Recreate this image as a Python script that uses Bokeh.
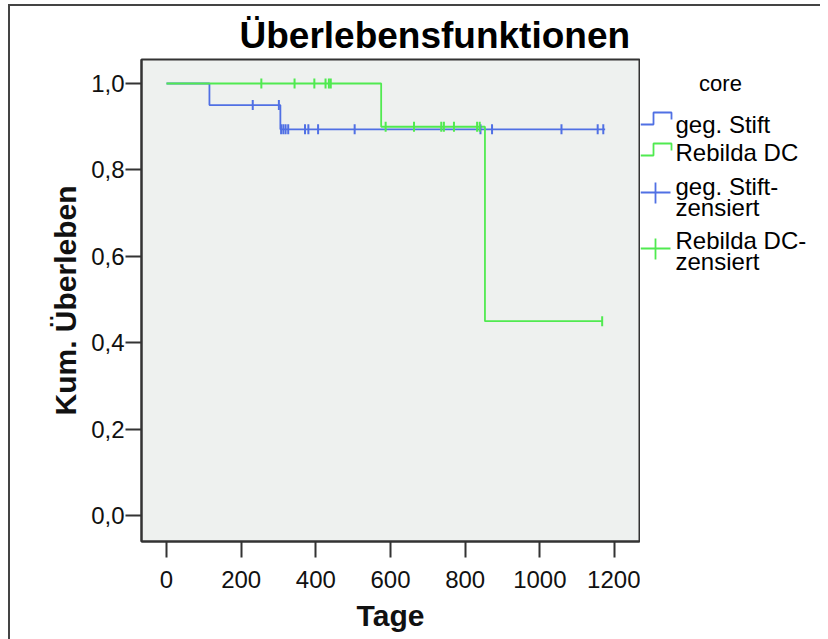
from bokeh.plotting import figure
from bokeh.layouts import row
from bokeh.models import Range1d, FixedTicker
from bokeh.core.properties import value
from bokeh.embed import file_html
from bokeh.resources import INLINE

# ---- data ----
blue_step_t = [0, 115, 305, 1175]
blue_step_s = [1.0, 0.95, 0.894, 0.894]
blue_cens_t = [231, 301, 307, 313, 319, 326, 371, 380, 406, 504, 841, 872, 1058, 1155, 1170]
blue_cens_s = [0.95, 0.95, 0.894, 0.894, 0.894, 0.894, 0.894, 0.894, 0.894, 0.894,
               0.894, 0.894, 0.894, 0.894, 0.894]

green_step_t = [0, 575, 853, 1167]
green_step_s = [1.0, 0.90, 0.45, 0.45]
green_cens_t = [254, 343, 396, 426, 435, 440, 587, 663, 736, 743, 770, 832, 839, 1167]
green_cens_s = [1.0, 1.0, 1.0, 1.0, 1.0, 1.0, 0.90, 0.90, 0.90, 0.90, 0.90, 0.90, 0.90, 0.45]

x_ticks = [0, 200, 400, 600, 800, 1000, 1200]
y_ticks = [0.0, 0.2, 0.4, 0.6, 0.8, 1.0]
y_tick_labels = ["0,0", "0,2", "0,4", "0,6", "0,8", "1,0"]

legend_title = "core"
legend_labels = ["geg. Stift", "Rebilda DC", "geg. Stift-", "zensiert", "Rebilda DC-", "zensiert"]

BLUE = "#5070e4"
GREEN = "#50ea50"
FONT = "Liberation Sans"
OX, OY = 10, 6          # page offset of the figures (margin + outer border)
H = 639 - OY
TOP = 59 - OY
BOTTOM = H - (541 - OY)

p = figure(width=640 - OX, height=H, output_backend="svg", toolbar_location=None,
           x_range=Range1d(-67, 1267), y_range=Range1d(-0.06, 1.0556),
           min_border_left=141 - OX, min_border_right=1, min_border_top=TOP, min_border_bottom=BOTTOM)
p.background_fill_color = "#eef1ef"
p.border_fill_color = "white"
p.outline_line_color = "#333333"
p.outline_line_width = 2
p.grid.visible = False

p.title.text = "Überlebensfunktionen"
p.title.text_font = FONT
p.title.text_font_size = "37px"
p.title.text_font_style = "bold"
p.title.text_color = "#000000"
p.title.align = "left"
p.title.offset = 98
p.title.standoff = 8

for ax in (p.xaxis[0], p.yaxis[0]):
    ax.axis_line_color = "#333333"
    ax.axis_line_width = 2
    ax.major_tick_line_color = "#333333"
    ax.major_tick_line_width = 2
    ax.major_tick_in = 0
    ax.major_tick_out = 16
    ax.minor_tick_line_color = None
    ax.major_label_text_font = FONT
    ax.major_label_text_font_size = "24px"
    ax.major_label_text_color = "#111111"
    ax.axis_label_text_font = FONT
    ax.axis_label_text_font_size = "30px"
    ax.axis_label_text_font_style = "bold"
    ax.axis_label_text_color = "#111111"

p.xaxis.ticker = FixedTicker(ticks=x_ticks)
p.yaxis.ticker = FixedTicker(ticks=y_ticks)
p.yaxis.major_label_overrides = {t: l for t, l in zip(y_ticks, y_tick_labels)}
p.xaxis.axis_label = "Tage"
p.yaxis.axis_label = "Kum. Überleben"
p.xaxis.major_label_standoff = 13
p.yaxis.major_label_standoff = 1
p.xaxis.axis_label_standoff = 8
p.yaxis.axis_label_standoff = 6

p.step(blue_step_t, blue_step_s, mode="after", line_color=BLUE, line_width=1.8)
p.step(green_step_t, green_step_s, mode="after", line_color=GREEN, line_width=1.8)
p.scatter(blue_cens_t, blue_cens_s, marker="dash", angle=1.5708, size=10,
          line_color=BLUE, line_width=2)
p.scatter(green_cens_t, green_cens_s, marker="dash", angle=1.5708, size=10,
          line_color=GREEN, line_width=2)

# ---- legend panel (page pixel coordinates; frame aligned with main frame) ----
leg = figure(width=180, height=H, output_backend="svg", toolbar_location=None,
             x_range=Range1d(640, 820), y_range=Range1d(541, 59),
             min_border_left=0, min_border_right=0, min_border_top=TOP, min_border_bottom=BOTTOM)
leg.axis.visible = False
leg.grid.visible = False
leg.outline_line_color = None
leg.background_fill_color = "white"
leg.border_fill_color = "white"

leg.line([640, 653, 653, 671, 671], [124, 124, 112, 112, 119], line_color=BLUE, line_width=1.8)
leg.line([640, 653, 653, 671, 671], [155, 155, 143, 143, 150], line_color=GREEN, line_width=1.8)
leg.line([640, 670], [192, 192], line_color=BLUE, line_width=1.8)
leg.line([655, 655], [182, 203], line_color=BLUE, line_width=1.8)
leg.line([640, 670], [248, 248], line_color=GREEN, line_width=1.8)
leg.line([655, 655], [238, 259], line_color=GREEN, line_width=1.8)

leg.text(x=[720], y=[83], text=[legend_title], text_align="center", text_baseline="middle",
         text_font=value(FONT), text_font_size="22px", text_color="#000000")
leg.text(x=[675] * 6, y=[124, 152, 186, 207, 240, 261], text=legend_labels,
         text_align="left", text_baseline="middle",
         text_font=value(FONT), text_font_size="24px", text_color="#000000")

layout = row(p, leg, styles={"border-left": "2px solid #444444", "border-top": "2px solid #444444",
                             "margin-left": "8px", "margin-top": "4px"})
open("out.html", "w").write(file_html(layout, INLINE))
